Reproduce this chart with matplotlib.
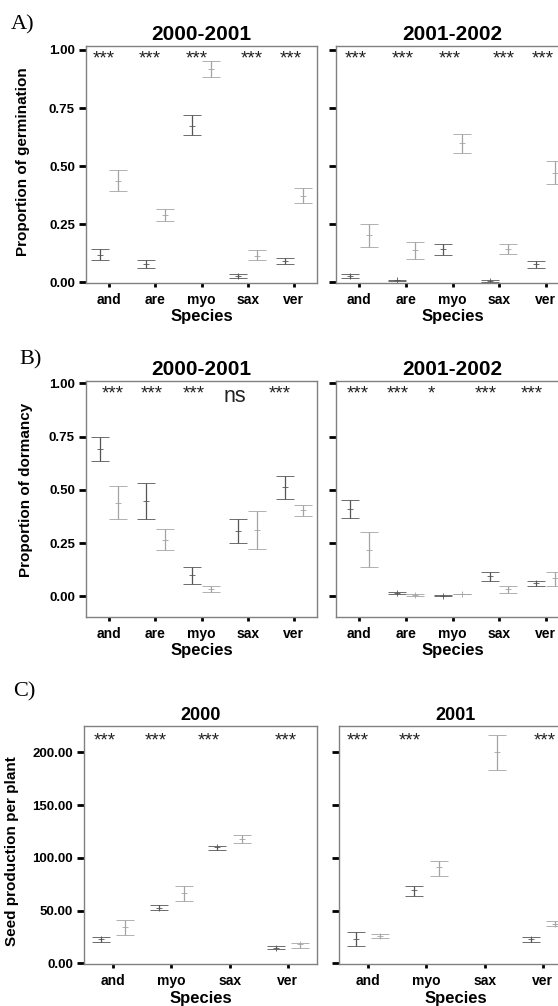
import numpy as np
import matplotlib.pyplot as plt
from matplotlib.ticker import FormatStrFormatter

W, H = 558, 1006

SPECIES_AB = ["and", "are", "myo", "sax", "ver"]
SPECIES_C = ["and", "myo", "sax", "ver"]

# (lower, mean, upper) per species; FIRST = darker bar, SECOND = lighter bar
GERM_0001_FIRST = [(0.095, 0.118, 0.143), (0.060, 0.077, 0.096), (0.632, 0.672, 0.719),
                   (0.019, 0.027, 0.036), (0.079, 0.092, 0.105)]
GERM_0001_SECOND = [(0.391, 0.437, 0.483), (0.264, 0.288, 0.315), (0.883, 0.918, 0.954),
                    (0.095, 0.115, 0.138), (0.341, 0.372, 0.405)]
GERM_0102_FIRST = [(0.019, 0.028, 0.037), (0.004, 0.008, 0.011), (0.119, 0.142, 0.165),
                   (0.000, 0.004, 0.008), (0.063, 0.077, 0.093)]
GERM_0102_SECOND = [(0.153, 0.205, 0.252), (0.102, 0.140, 0.175), (0.557, 0.599, 0.639),
                    (0.123, 0.145, 0.165), (0.424, 0.471, 0.523)]

DORM_0001_FIRST = [(0.634, 0.690, 0.750), (0.363, 0.447, 0.534), (0.059, 0.100, 0.138),
                   (0.250, 0.305, 0.363), (0.456, 0.512, 0.567)]
DORM_0001_SECOND = [(0.363, 0.437, 0.517), (0.217, 0.266, 0.316), (0.022, 0.034, 0.047),
                    (0.222, 0.311, 0.400), (0.377, 0.406, 0.428)]
DORM_0102_FIRST = [(0.366, 0.409, 0.452), (0.009, 0.014, 0.019), (0.000, 0.003, 0.005),
                   (0.072, 0.094, 0.114), (0.048, 0.061, 0.070)]
DORM_0102_SECOND = [(0.137, 0.219, 0.302), (0.002, 0.006, 0.009), (0.009, 0.010, 0.011),
                    (0.016, 0.033, 0.048), (0.048, 0.084, 0.114)]

SEED_2000_FIRST = [(20.5, 22.7, 24.6), (50.2, 52.4, 55.8), (107.9, 110.1, 111.4), (13.3, 14.8, 16.4)]
SEED_2000_SECOND = [(27.1, 34.1, 40.7), (59.0, 66.6, 72.9), (114.5, 118.0, 121.8), (14.8, 18.0, 19.6)]
SEED_2001_FIRST = [(16.1, 23.0, 29.3), (63.4, 69.1, 73.8), (np.nan, np.nan, np.nan), (19.9, 22.7, 24.9)]
SEED_2001_SECOND = [(23.7, 26.2, 28.1), (82.7, 90.9, 97.5), (183.6, 200.6, 216.7), (35.0, 37.2, 39.7)]

SIG_GERM_0001 = ["***", "***", "***", "***", "***"]
SIG_GERM_0102 = ["***", "***", "***", "***", "***"]
SIG_DORM_0001 = ["***", "***", "***", "ns", "***"]
SIG_DORM_0102 = ["***", "***", "*", "***", "***"]
SIG_SEED_2000 = ["***", "***", "***", "***"]
SIG_SEED_2001 = ["***", "***", "", "***"]

PROP_TICKS = [0.0, 0.25, 0.5, 0.75, 1.0]
SEED_TICKS = [0, 50, 100, 150, 200]

DARK = "#555555"
LIGHT = "#a4a4a4"
SPINE = "#808080"
SANS = ["Liberation Sans", "DejaVu Sans"]
SERIF = ["Liberation Serif", "DejaVu Serif"]

plt.rcParams["font.family"] = SANS


def add_axes_px(fig, x0, y0, x1, y1):
    return fig.add_axes([x0 / W, 1 - y1 / H, (x1 - x0) / W, (y1 - y0) / H])


def draw_panel(ax, species, first, second, sig, star_shift, star_y, ylim, yticks,
               title, title_size, offset, capsize, show_ylabels):
    x = np.arange(len(species))
    for data, color, dx in ((first, DARK, -offset), (second, LIGHT, offset)):
        arr = np.array(data, dtype=float)
        lo, mean, hi = arr[:, 0], arr[:, 1], arr[:, 2]
        ax.errorbar(x + dx, mean, yerr=[mean - lo, hi - mean], fmt="+", color=color,
                    ecolor=color, elinewidth=0.9, capsize=capsize, capthick=0.9,
                    markersize=4, markeredgewidth=0.6)

    for i, s in enumerate(sig):
        if not s:
            continue
        if s == "ns":
            ax.text(i + star_shift[i], star_y[1], s, ha="center", va="center",
                    fontsize=15.5, color="#222222")
        else:
            ax.text(i + star_shift[i], star_y[0], s, ha="center", va="center",
                    fontsize=13.5, color="#222222")

    ax.set_xlim(-0.5, len(species) - 0.5)
    ax.set_ylim(*ylim)
    ax.set_xticks(x)
    ax.set_xticklabels(species, fontsize=10, fontweight="bold")
    ax.set_yticks(yticks)
    ax.yaxis.set_major_formatter(FormatStrFormatter("%.2f"))
    if not show_ylabels:
        ax.set_yticklabels([])
    for label in ax.get_yticklabels():
        label.set_fontweight("bold")
        label.set_fontsize(9.5)
    ax.tick_params(axis="y", direction="out", length=5, width=2, color="black", pad=3)
    ax.tick_params(axis="x", direction="out", length=3, width=2, color="black", pad=4)
    for sp in ax.spines.values():
        sp.set_color(SPINE)
        sp.set_linewidth(1.0)
    ax.set_xlabel("Species", fontsize=12, fontweight="bold", labelpad=2)
    ax.set_title(title, fontsize=title_size, fontweight="bold", pad=4)


def main() -> None:
    fig = plt.figure(figsize=(W / 100, H / 100), dpi=100)

    # A) germination
    ax = add_axes_px(fig, 86, 46, 317, 283)
    draw_panel(ax, SPECIES_AB, GERM_0001_FIRST, GERM_0001_SECOND, SIG_GERM_0001,
               [-0.11, -0.11, -0.11, 0.09, -0.07], (0.962, 0.94), (-0.003, 1.017),
               PROP_TICKS, "2000-2001", 15, 0.2, 6.5, True)
    ax = add_axes_px(fig, 336, 46, 569, 283)
    draw_panel(ax, SPECIES_AB, GERM_0102_FIRST, GERM_0102_SECOND, SIG_GERM_0102,
               [-0.07, -0.07, -0.07, 0.09, -0.07], (0.962, 0.94), (-0.003, 1.017),
               PROP_TICKS, "2001-2002", 15, 0.2, 6.5, False)

    # B) dormancy
    ax = add_axes_px(fig, 86, 381, 317, 617)
    draw_panel(ax, SPECIES_AB, DORM_0001_FIRST, DORM_0001_SECOND, SIG_DORM_0001,
               [0.07, -0.07, -0.17, -0.28, -0.3], (0.948, 0.936), (-0.097, 1.011),
               PROP_TICKS, "2000-2001", 15, 0.2, 6.5, True)
    ax = add_axes_px(fig, 336, 381, 569, 617)
    draw_panel(ax, SPECIES_AB, DORM_0102_FIRST, DORM_0102_SECOND, SIG_DORM_0102,
               [-0.04, -0.17, -0.46, -0.28, -0.3], (0.948, 0.936), (-0.097, 1.011),
               PROP_TICKS, "2001-2002", 15, 0.2, 6.5, False)

    # C) seed production
    ax = add_axes_px(fig, 84, 726, 317, 964)
    draw_panel(ax, SPECIES_C, SEED_2000_FIRST, SEED_2000_SECOND, SIG_SEED_2000,
               [-0.14, -0.26, -0.36, -0.03], (210.5, 205), (-0.6, 225),
               SEED_TICKS, "2000", 13, 0.21, 6.8, True)
    ax = add_axes_px(fig, 339, 726, 572, 964)
    draw_panel(ax, SPECIES_C, SEED_2001_FIRST, SEED_2001_SECOND, SIG_SEED_2001,
               [-0.17, -0.28, 0.0, 0.03], (210.5, 205), (-0.6, 225),
               SEED_TICKS, "2001", 13, 0.21, 6.8, False)

    # y labels and panel letters
    fig.text(23 / W, 1 - 162 / H, "Proportion of germination", rotation=90, ha="center",
             va="center", fontsize=11, fontweight="bold")
    fig.text(26 / W, 1 - 490 / H, "Proportion of dormancy", rotation=90, ha="center",
             va="center", fontsize=11, fontweight="bold")
    fig.text(12 / W, 1 - 851 / H, "Seed production per plant", rotation=90, ha="center",
             va="center", fontsize=11, fontweight="bold")
    for letter, (px, py) in {"A)": (11, 25), "B)": (19, 360), "C)": (13, 692)}.items():
        fig.text(px / W, 1 - py / H, letter, ha="left", va="center", fontsize=16,
                 family=SERIF)

    fig.savefig("out.png", dpi=100)
    plt.close(fig)


if __name__ == "__main__":
    main()
